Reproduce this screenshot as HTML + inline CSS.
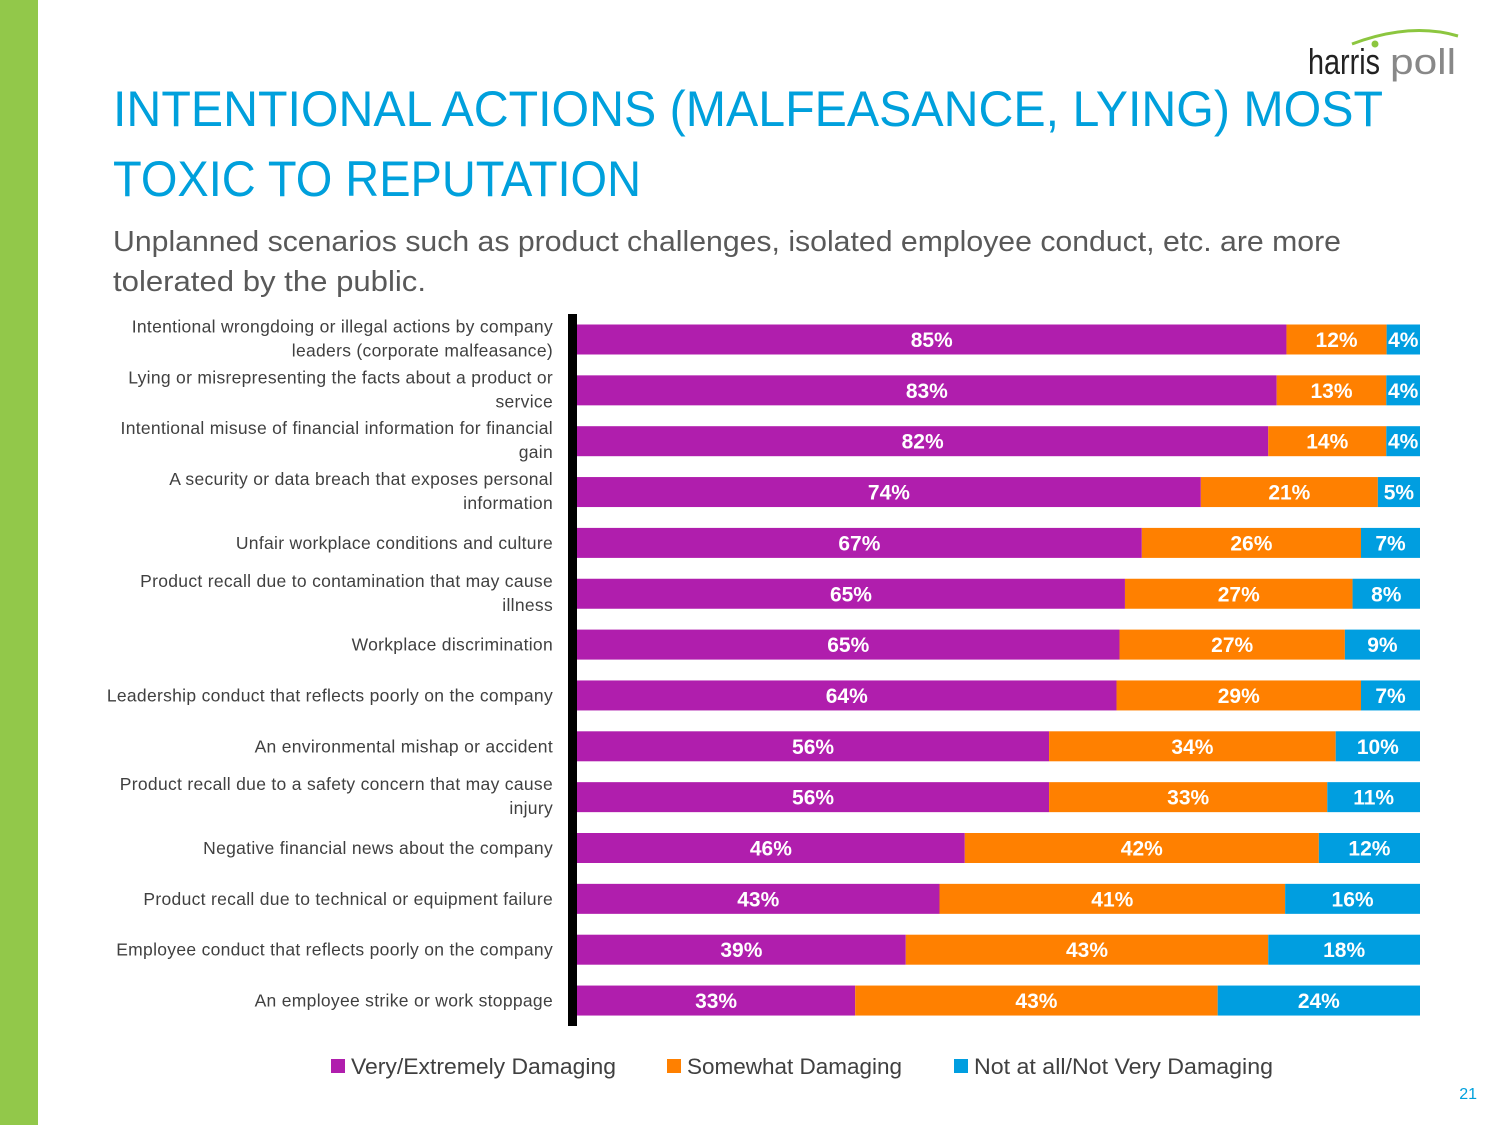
<!DOCTYPE html>
<html><head><meta charset="utf-8"><style>
html,body{margin:0;padding:0;background:#fff}
svg{display:block;font-family:"Liberation Sans",sans-serif}
</style></head><body>
<svg id="chart" width="1500" height="1125" viewBox="0 0 1500 1125" xmlns="http://www.w3.org/2000/svg">
<rect x="0" y="0" width="38" height="1125" fill="#92c84a"/>
<g>
<path d="M1352 44 Q1410 22 1458 36" stroke="#8cc63f" stroke-width="3" fill="none"/>
<circle cx="1375" cy="44" r="3.5" fill="#8cc63f"/>
<text x="1308" y="74" font-size="36" fill="#222" textLength="72" lengthAdjust="spacingAndGlyphs">harris</text>
<text x="1390" y="74" font-size="36" fill="#888" textLength="66" lengthAdjust="spacingAndGlyphs">poll</text>
</g>
<text x="113" y="126" font-size="50" fill="#00a0dc" textLength="1270" lengthAdjust="spacingAndGlyphs">INTENTIONAL ACTIONS (MALFEASANCE, LYING) MOST</text>
<text x="113" y="196" font-size="50" fill="#00a0dc" textLength="528" lengthAdjust="spacingAndGlyphs">TOXIC TO REPUTATION</text>
<text x="113" y="251" font-size="29" fill="#595959" textLength="1228" lengthAdjust="spacingAndGlyphs">Unplanned scenarios such as product challenges, isolated employee conduct, etc. are more</text>
<text x="113" y="291" font-size="29" fill="#595959" textLength="313" lengthAdjust="spacingAndGlyphs">tolerated by the public.</text>
<g id="bars"></g>
<rect x="568" y="314" width="9" height="712" fill="#000"/>
<g font-size="22" fill="#404040">
<rect x="331" y="1059" width="14" height="14" fill="#b01ead"/>
<text x="351" y="1074" textLength="265" lengthAdjust="spacingAndGlyphs">Very/Extremely Damaging</text>
<rect x="667" y="1059" width="14" height="14" fill="#ff8000"/>
<text x="687" y="1074" textLength="215" lengthAdjust="spacingAndGlyphs">Somewhat Damaging</text>
<rect x="954" y="1059" width="14" height="14" fill="#009ee0"/>
<text x="974" y="1074" textLength="299" lengthAdjust="spacingAndGlyphs">Not at all/Not Very Damaging</text>
</g>
<text x="1477" y="1099" font-size="16" fill="#00a0dc" text-anchor="end">21</text>
</svg>
<script>
const categories = [
 ["Intentional wrongdoing or illegal actions by company","leaders (corporate malfeasance)"],
 ["Lying or misrepresenting the facts about a product or","service"],
 ["Intentional misuse of financial information for financial","gain"],
 ["A security or data breach that exposes personal","information"],
 ["Unfair workplace conditions and culture"],
 ["Product recall due to contamination that may cause","illness"],
 ["Workplace discrimination"],
 ["Leadership conduct that reflects poorly on the company"],
 ["An environmental mishap or accident"],
 ["Product recall due to a safety concern that may cause","injury"],
 ["Negative financial news about the company"],
 ["Product recall due to technical or equipment failure"],
 ["Employee conduct that reflects poorly on the company"],
 ["An employee strike or work stoppage"]
];
const veryDamaging = [85,83,82,74,67,65,65,64,56,56,46,43,39,33];
const somewhatDamaging = [12,13,14,21,26,27,27,29,34,33,42,41,43,43];
const notDamaging = [4,4,4,5,7,8,9,7,10,11,12,16,18,24];

const NS="http://www.w3.org/2000/svg";
const g=document.getElementById('bars');
const x0=577, x1=1420, barH=30;
const yCenter=i=>339.5+i*50.85;
const seriesList=[[veryDamaging,"#b01ead","very"],[somewhatDamaging,"#ff8000","somewhat"],[notDamaging,"#009ee0","not"]];
function mk(tag,attrs){const e=document.createElementNS(NS,tag);for(const k in attrs)e.setAttribute(k,attrs[k]);return e;}
categories.forEach((lines,i)=>{
  const yc=yCenter(i);
  const t=mk('text',{x:553,"font-size":17.5,fill:"#404040","text-anchor":"end","letter-spacing":"0.3"});
  
  
  const startY = lines.length===1 ? yc+6 : yc-7;
  lines.forEach((ln,j)=>{const s=mk('tspan',{x:553,y:startY+j*24});s.textContent=ln;t.appendChild(s);});
  g.appendChild(t);
  const total=veryDamaging[i]+somewhatDamaging[i]+notDamaging[i];
  const sx=v=>(x1-x0)*v/total;
  let x=x0;
  seriesList.forEach(([arr,col,nm])=>{
    const w=sx(arr[i]);
    const r=mk('rect',{x:x,y:yc-barH/2,width:w,height:barH,fill:col});
    
    
    g.appendChild(r);
    const lt=mk('text',{x:x+w/2,y:yc+7.5,"font-size":21,"font-weight":"bold",fill:"#fff","text-anchor":"middle"});
    
    
    lt.textContent=arr[i]+"%";
    g.appendChild(lt);
    x+=w;
  });
});
</script>
</body></html>
